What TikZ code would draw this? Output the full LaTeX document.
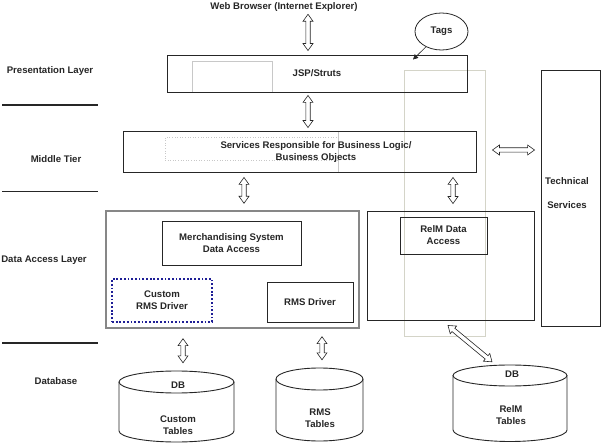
\documentclass[tikz,border=0pt]{standalone}
\usepackage{fontspec}
\setmainfont{Liberation Sans}
\usetikzlibrary{calc,arrows.meta,shapes.geometric}
\definecolor{ink}{RGB}{38,38,38}
\definecolor{faint}{RGB}{212,212,200}
\definecolor{faintgray}{RGB}{200,200,200}
\definecolor{dalgray}{RGB}{135,135,135}
\definecolor{dotblue}{RGB}{30,30,150}
\newcommand\hollowarrow[2]{%
  \draw[harrow] (#1)
   -- ($(#1)!7pt!(#2)!5pt!90:(#2)$)
   -- ($(#1)!7pt!(#2)!2.2pt!90:(#2)$)
   -- ($(#2)!7pt!(#1)!2.2pt!-90:(#1)$)
   -- ($(#2)!7pt!(#1)!5pt!-90:(#1)$)
   -- (#2)
   -- ($(#2)!7pt!(#1)!5pt!90:(#1)$)
   -- ($(#2)!7pt!(#1)!2.2pt!90:(#1)$)
   -- ($(#1)!7pt!(#2)!2.2pt!-90:(#2)$)
   -- ($(#1)!7pt!(#2)!5pt!-90:(#2)$)
   -- cycle;}
\tikzset{
  lbl/.style={text=ink, font=\bfseries\fontsize{9.6}{12}\selectfont, align=center, inner sep=0pt},
  box/.style={lbl, draw=ink, line width=0.9pt, rectangle},
  faintbox/.style={draw=faintgray, line width=0.6pt, inner sep=0pt},
  harrow/.style={draw=ink, line width=0.6pt, fill=white, line join=miter},
  layerline/.style={draw=ink, line width=1.6pt},
  cyl/.style={draw=ink, line width=0.9pt},
}
\begin{document}
\begin{tikzpicture}[x=1pt,y=-1pt]
\useasboundingbox (0,0) rectangle (602,443);
% faint background boxes
\node[draw=faint, line width=0.7pt, inner sep=0pt, minimum width=81pt, minimum height=266pt] (faintcol) at (444.5,203) {};
\node[faintbox, minimum width=80pt, minimum height=31pt] (jspghost) at (232,76.5) {};
\node[draw=faintgray, dotted, line width=0.6pt, inner sep=0pt, minimum width=173pt, minimum height=23pt] (midghost) at (251.5,149) {};
\draw[faintgray, line width=0.6pt] (midghost.north east |- 0,131) -- (midghost.south east |- 0,172);

% layer labels and separators
\node[lbl] (lpres) at (50,71) {Presentation Layer};
\node[lbl] (lmid) at (56,159) {Middle Tier};
\node[lbl] (ldal) at (44,260) {Data Access Layer};
\node[lbl] (ldb) at (56,381) {Database};
\draw[layerline] (2,105) -- (98,105);
\draw[layerline] (2,191.5) -- (98,191.5);
\draw[layerline] (2,343) -- (98,343);

% top
\node[lbl] (web) at (284,7) {Web Browser (Internet Explorer)};
\node[box, minimum width=300pt, minimum height=37pt] (jsp) at (317,73.5) {JSP/Struts};
\node[lbl, draw=ink, line width=0.8pt, ellipse, minimum width=53pt, minimum height=37pt] (tags) at (441.5,31.5) {Tags};
\draw[ink, line width=0.6pt, -{Triangle[length=5pt,width=5pt]}] (tags) -- ([xshift=96pt,yshift=-5pt]jsp.north);

% middle tier
\node[box, minimum width=353pt, minimum height=41pt] (mid) at (299.5,151.5) {};
\node[lbl] (midtext) at (316,152) {Services Responsible for Business Logic/\\Business Objects};

% technical services
\node[box, minimum width=59pt, minimum height=256pt] (tech) at (570.5,198) {};
\node[lbl, font=\bfseries\fontsize{9.6}{24}\selectfont] (techtext) at (567,193) {Technical\\Services};

% data access layer
\node[draw=dalgray, line width=1.4pt, inner sep=0pt, minimum width=253pt, minimum height=117pt] (dal) at (232.5,269.5) {};
\node[box, minimum width=139pt, minimum height=44pt] (merch) at (231.5,243) {Merchandising System\\Data Access};
\node[lbl, draw=dotblue, line width=1.8pt, dash pattern=on 1.8pt off 1.9pt, minimum width=100pt, minimum height=43pt] (custom) at (162,300.5) {Custom\\RMS Driver};
\node[box, minimum width=86pt, minimum height=40pt] (rmsdrv) at (310,302) {RMS Driver};
\node[box, minimum width=167pt, minimum height=109pt] (relim) at (450.5,265.5) {};
\node[box, minimum width=87pt, minimum height=37pt] (relimda) at (443.5,235.5) {RelM Data\\Access};

% databases (cylinder outlines)
\node[inner sep=0pt, minimum width=115pt, minimum height=71pt] (cdb) at (176.5,406.5) {};
\draw[cyl] (119,382) -- (119,431) arc[start angle=180, end angle=360, x radius=57.5pt, y radius=11pt] -- (234,382);
\draw[cyl] (176.5,382) ellipse [x radius=57.5pt, y radius=11pt];
\node[lbl] (cdbdb) at (178,385) {DB};
\node[lbl] (cdbtext) at (178,425) {Custom\\Tables};

\node[inner sep=0pt, minimum width=87pt, minimum height=73pt] (rdb) at (319.5,404.5) {};
\draw[cyl] (276,379) -- (276,430) arc[start angle=180, end angle=360, x radius=43.5pt, y radius=11pt] -- (363,379);
\draw[cyl] (319.5,379) ellipse [x radius=43.5pt, y radius=11pt];
\node[lbl] (rdbtext) at (320,418) {RMS\\Tables};

\node[inner sep=0pt, minimum width=114pt, minimum height=77pt] (edb) at (510,403.5) {};
\draw[cyl] (453,375.5) -- (453,430) arc[start angle=180, end angle=360, x radius=57pt, y radius=11.5pt] -- (567,375.5);
\draw[cyl] (510,375.5) ellipse [x radius=57pt, y radius=10.5pt];
\node[lbl] (edbdb) at (512,374) {DB};
\node[lbl] (edbtext) at (511,415) {RelM\\Tables};

% hollow double arrows
\hollowarrow{[xshift=24pt,yshift=-2.6pt]web.south}{[xshift=-9pt,yshift=4pt]jsp.north}
\hollowarrow{[xshift=-9pt,yshift=-3pt]jsp.south}{[xshift=8.5pt,yshift=3pt]mid.north}
\hollowarrow{[xshift=-55.5pt,yshift=-5pt]mid.south}{[xshift=11.5pt,yshift=7pt]dal.north}
\hollowarrow{[xshift=153.5pt,yshift=-5pt]mid.south}{[xshift=2.5pt,yshift=7pt]relim.north}
\hollowarrow{[xshift=16pt,yshift=1.5pt]mid.east}{[xshift=-6pt,yshift=48pt]tech.west}
\hollowarrow{[xshift=-49.5pt,yshift=-10pt]dal.south}{[xshift=6.5pt,yshift=8pt]cdb.north}
\hollowarrow{[xshift=89.5pt,yshift=-8pt]dal.south}{[xshift=2.5pt,yshift=8pt]rdb.north}
\hollowarrow{[xshift=-2.5pt,yshift=-5pt]relim.south}{[xshift=-18pt,yshift=3pt]edb.north}
\end{tikzpicture}
\end{document}
